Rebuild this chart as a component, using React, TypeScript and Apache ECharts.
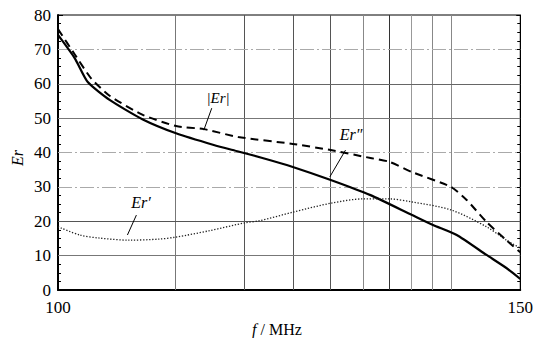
import React, { useEffect, useRef } from "react";
import * as echarts from "echarts";

// Er'' (solid)
const erppX = [100, 101.82, 103.22, 105.58, 109.12, 112.77, 116.85, 119.5, 122.4, 125.4, 129.5, 133.8, 138.3, 140.56, 143.13, 146.35, 148.5, 150];
const erppY = [74.2, 67.4, 60.5, 55.3, 49.7, 45.6, 42.2, 40.3, 38.2, 35.8, 32.0, 27.6, 21.8, 18.9, 16.0, 10.2, 6.4, 3.2];

// |Er| (dashed)
const erAbsX = [100, 101.82, 103.6, 105.58, 109.12, 112.77, 115.77, 119.5, 125.4, 129.5, 133.8, 135.84, 138.3, 142.5, 144.2, 146.35, 148.5, 150];
const erAbsY = [75.9, 68.5, 61.5, 56.5, 51.0, 47.7, 46.8, 44.5, 42.5, 40.7, 38.4, 37.3, 34.3, 30.0, 26.2, 19.8, 14.5, 11.0];

// Er' (dotted)
const erpX = [100, 102.36, 104.5, 107.7, 110.9, 112.77, 116.3, 120.3, 121.7, 125.5, 129.6, 133.0, 135.8, 138.3, 142.5, 146.35, 148.5, 150];
const erpY = [18.4, 16.0, 15.1, 14.5, 14.8, 15.4, 17.2, 19.6, 20.1, 22.7, 25.3, 26.5, 26.5, 25.6, 23.3, 18.4, 14.5, 12.2];

// vertical grid lines (frequency values)
const gridX = [112.7, 120.2, 125.5, 129.5, 133.0, 135.8, 138.2, 140.5, 142.5];
const gridXColor = ["#777", "#555", "#555", "#555", "#888", "#333", "#999", "#888", "#888"];

// horizontal grid lines (Er values)
const gridY = [10, 20, 30, 40, 50, 60, 70];
const gridYColor = ["#777", "#555", "#aaa", "#aaa", "#777", "#666", "#aaa"];
const gridYDashed = [false, false, true, true, false, false, true];

const yTicks = [0, 10, 20, 30, 40, 50, 60, 70, 80];
const xTicks = [100, 150];

// leader lines [x1, y1, x2, y2]
const leaders = [
  [116.63, 52.9, 115.77, 46.5],
  [131.1, 40.7, 129.4, 32.9],
  [108.48, 21.8, 107.51, 16.0],
];

const FONT = "Times New Roman";

export default function App() {
  const ref = useRef<HTMLDivElement>(null);
  useEffect(() => {
    if (!ref.current) return;
    const chart = echarts.init(ref.current, null, { renderer: "svg" });
    const zip = (xs: number[], ys: number[]) => xs.map((x, i) => [x, ys[i]]);
    const option: any = {
      animation: false,
      backgroundColor: "#fff",
      textStyle: { fontFamily: FONT },
      grid: {
        left: 58,
        right: 12,
        top: 15,
        bottom: 48,
        show: true,
        borderColor: "#000",
        borderWidth: 1,
      },
      xAxis: {
        type: "value",
        min: xTicks[0],
        max: xTicks[xTicks.length - 1],
        interval: 50,
        axisLine: { show: true, lineStyle: { color: "#000", width: 2 } },
        axisTick: { show: false },
        splitLine: { show: false },
        axisLabel: {
          color: "#000",
          fontFamily: FONT,
          fontSize: 17,
          margin: 9,
        },
      },
      yAxis: [
        {
          type: "value",
          min: 0,
          max: 80,
          interval: 10,
          axisLine: { show: true, lineStyle: { color: "#000", width: 2 } },
          axisTick: { show: true, inside: true, length: 5, lineStyle: { color: "#000" } },
          minorTick: { show: true, splitNumber: 4, length: 3, lineStyle: { color: "#000" } },
          splitLine: { show: false },
          axisLabel: {
            color: "#000",
            fontFamily: FONT,
            fontSize: 17,
            margin: 7,
            formatter: (v: number) => (yTicks.includes(v) ? String(v) : ""),
          },
        },
        {
          type: "value",
          position: "right",
          min: 0,
          max: 80,
          interval: 10,
          axisLine: { show: true, lineStyle: { color: "#000", width: 1 } },
          axisTick: { show: true, inside: true, length: 4, lineStyle: { color: "#000" } },
          minorTick: { show: true, splitNumber: 4, length: 3, lineStyle: { color: "#000" } },
          splitLine: { show: false },
          axisLabel: { show: false },
        },
      ],
      series: [
        {
          type: "line",
          name: "grid",
          data: [],
          silent: true,
          markLine: {
            silent: true,
            symbol: "none",
            label: { show: false },
            data: [
              ...gridX.map((x, i) => ({
                xAxis: x,
                lineStyle: { color: gridXColor[i], width: 1, type: "solid" },
              })),
              ...gridY.map((y, i) => ({
                yAxis: y,
                lineStyle: {
                  color: gridYColor[i],
                  width: 1,
                  type: gridYDashed[i] ? [14, 3, 2, 3] : "solid",
                },
              })),
            ],
          },
        },
        {
          type: "line",
          name: "leaders",
          data: [],
          silent: true,
          markLine: {
            silent: true,
            symbol: "none",
            label: { show: false },
            lineStyle: { color: "#000", width: 1, type: "solid" },
            data: leaders.map((l) => [
              { coord: [l[0], l[1]] },
              { coord: [l[2], l[3]] },
            ]),
          },
        },
        {
          type: "line",
          name: "Er''",
          data: zip(erppX, erppY),
          smooth: 0.2,
          showSymbol: false,
          lineStyle: { color: "#000", width: 2.2, type: "solid" },
          z: 5,
        },
        {
          type: "line",
          name: "|Er|",
          data: zip(erAbsX, erAbsY),
          smooth: 0.2,
          showSymbol: false,
          lineStyle: { color: "#000", width: 2, type: [8, 5] },
          z: 5,
        },
        {
          type: "line",
          name: "Er'",
          data: zip(erpX, erpY),
          smooth: 0.3,
          showSymbol: false,
          lineStyle: { color: "#222", width: 1.3, type: [1.3, 1.7] },
          z: 5,
        },
      ],
      graphic: [
        {
          type: "text",
          x: 218,
          y: 98,
          style: {
            text: "|Er|",
            font: `italic 15px ${FONT}`,
            fill: "#000",
            align: "center",
            verticalAlign: "middle",
          },
        },
        {
          type: "text",
          x: 351,
          y: 134,
          style: {
            text: "Er″",
            font: `italic 16px ${FONT}`,
            fill: "#000",
            align: "center",
            verticalAlign: "middle",
          },
        },
        {
          type: "text",
          x: 141,
          y: 202,
          style: {
            text: "Er′",
            font: `italic 16px ${FONT}`,
            fill: "#000",
            align: "center",
            verticalAlign: "middle",
          },
        },
        {
          type: "text",
          x: 17,
          y: 158,
          rotation: Math.PI / 2,
          style: {
            text: "Er",
            font: `italic 16px ${FONT}`,
            fill: "#000",
            align: "center",
            verticalAlign: "middle",
          },
        },
        {
          type: "text",
          x: 277,
          y: 329,
          style: {
            text: "{i|f} / MHz",
            rich: {
              i: { font: `italic 16px ${FONT}`, fill: "#000" },
            },
            font: `16px ${FONT}`,
            fill: "#000",
            align: "center",
            verticalAlign: "middle",
          },
        },
      ],
    };
    chart.setOption(option);
    return () => chart.dispose();
  }, []);
  return <div ref={ref} style={{ width: 536, height: 338, position: "absolute", left: 0, top: 0 }} />;
}
